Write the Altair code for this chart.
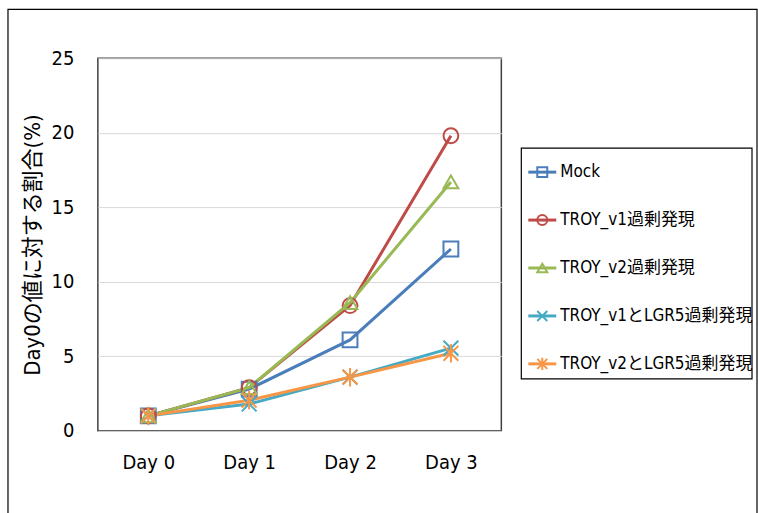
import altair as alt
import pandas as pd

# Time points and series
days = ["Day 0", "Day 1", "Day 2", "Day 3"]
series_names = [
    "Mock",
    "TROY_v1過剰発現",
    "TROY_v2過剰発現",
    "TROY_v1とLGR5過剰発現",
    "TROY_v2とLGR5過剰発現",
]
mock = [1.0, 2.8, 6.1, 12.2]
troy_v1 = [1.0, 2.9, 8.4, 19.8]
troy_v2 = [1.0, 2.9, 8.6, 16.7]
troy_v1_lgr5 = [1.0, 1.8, 3.6, 5.55]
troy_v2_lgr5 = [1.0, 2.05, 3.6, 5.2]

colors = ["#4A7EBB", "#BE4B48", "#98B954", "#46AAC5", "#F79646"]
shapes = [
    "square",
    "circle",
    "triangle-up",
    "M-1,-1L1,1M-1,1L1,-1",
    "M-1,-1L1,1M-1,1L1,-1M0,-1.25L0,1.25",
]

FONT = "DejaVu Sans Condensed, Noto Sans CJK JP, sans-serif"

all_values = [mock, troy_v1, troy_v2, troy_v1_lgr5, troy_v2_lgr5]
rows = []
for name, vals in zip(series_names, all_values):
    for d, v in zip(days, vals):
        rows.append({"day": d, "series": name, "value": v})
df = pd.DataFrame(rows)
legend_df = pd.DataFrame({"series": series_names})
frame_df = pd.DataFrame({"k": [0]})

color_scale = alt.Scale(domain=series_names, range=colors)
shape_scale = alt.Scale(domain=series_names, range=shapes)

x_enc = alt.X(
    "day:N",
    sort=days,
    scale=alt.Scale(type="point", padding=0.5),
    axis=alt.Axis(
        title=None, labelAngle=0, ticks=False, domain=False, grid=False,
        labelFont=FONT, labelFontSize=20, labelColor="#000000", labelPadding=22,
    ),
)
y_enc = alt.Y(
    "value:Q",
    scale=alt.Scale(domain=[0, 25], nice=False),
    axis=alt.Axis(
        title="Day0の値に対する割合(%)", values=[0, 5, 10, 15, 20, 25],
        ticks=False, domain=False, grid=True, gridColor="#D9D9D9", gridWidth=1,
        labelFont=FONT, labelFontSize=20, labelColor="#000000", labelPadding=24,
        titleFont=FONT, titleFontSize=22, titleFontWeight="normal",
        titleColor="#000000", titlePadding=7,
    ),
)

base = alt.Chart(df)
lines = base.mark_line(strokeWidth=3).encode(
    x=x_enc,
    y=y_enc,
    color=alt.Color("series:N", scale=color_scale, legend=None),
    detail="series:N",
)
points = base.mark_point(filled=False, strokeWidth=2, size=220, opacity=1).encode(
    x=x_enc,
    y=y_enc,
    color=alt.Color("series:N", scale=color_scale, legend=None),
    shape=alt.Shape("series:N", scale=shape_scale, legend=None),
)
main = alt.layer(lines, points)

# Legend drawn as its own layer to the right of the plot area
leg_y = alt.Y(
    "series:N", sort=series_names,
    scale=alt.Scale(type="point", range=[114, 306], padding=0), axis=None,
)
leg_base = alt.Chart(legend_df)
leg_lines = leg_base.mark_rule(strokeWidth=3).encode(
    x=alt.value(431), x2=alt.value(459), y=leg_y,
    color=alt.Color("series:N", scale=color_scale, legend=None),
)
leg_points = leg_base.mark_point(filled=False, strokeWidth=2, size=100, opacity=1).encode(
    x=alt.value(445), y=leg_y,
    color=alt.Color("series:N", scale=color_scale, legend=None),
    shape=alt.Shape("series:N", scale=shape_scale, legend=None),
)
leg_text = leg_base.mark_text(
    align="left", baseline="middle", font=FONT, fontSize=17, color="#000000"
).encode(x=alt.value(463), y=leg_y, text="series:N")
leg_box = alt.Chart(frame_df).mark_rect(
    filled=False, stroke="#000000", strokeWidth=1.2
).encode(x=alt.value(424), x2=alt.value(655), y=alt.value(90), y2=alt.value(321))
legend = alt.layer(leg_box, leg_lines, leg_points, leg_text)

# Outer chart-area frame
outer = alt.Chart(frame_df).mark_rect(
    filled=False, stroke="#000000", strokeWidth=1.2
).encode(x=alt.value(-90), x2=alt.value(660), y=alt.value(-49), y2=alt.value(480))

chart = (
    alt.layer(main, legend, outer)
    .resolve_scale(y="independent")
    .properties(
        width=404, height=373, background="#FFFFFF",
        padding={"left": 7, "top": 8, "right": 0, "bottom": 0},
    )
    .configure_view(stroke="#404040", strokeWidth=1.5)
)

chart.save("out.html", embed_options={"renderer": "svg", "actions": False})
